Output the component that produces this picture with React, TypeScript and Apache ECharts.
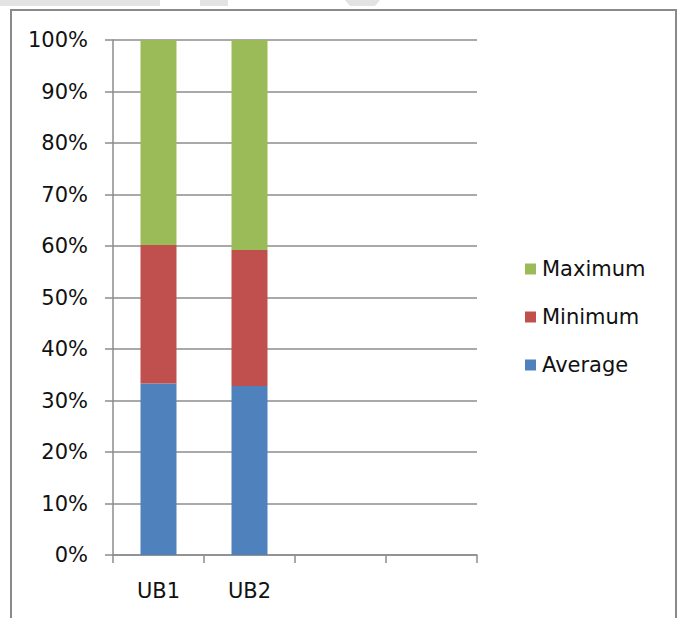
import React, { useEffect, useRef } from "react";
import * as echarts from "echarts";

const categories = ["UB1", "UB2", "", ""];
const averageValues = [33.3, 32.8];
const minimumValues = [26.9, 26.4];
const maximumValues = [39.8, 40.8];
const legendOrder = ["Maximum", "Minimum", "Average"];

const FONT = "DejaVu Sans";

export default function App() {
  const ref = useRef<HTMLDivElement>(null);
  useEffect(() => {
    document.body.style.margin = "0";
    const chart = echarts.init(ref.current!, null, { renderer: "svg" });
    const barStyle = { barWidth: 36, stack: "total" };
    chart.setOption({
      animation: false,
      backgroundColor: "#ffffff",
      graphic: [
        { type: "rect", shape: { x: 0, y: 0, width: 160, height: 6 }, style: { fill: "#e3e3e3" }, silent: true },
        { type: "rect", shape: { x: 200, y: 0, width: 28, height: 6 }, style: { fill: "#e3e3e3" }, silent: true },
        { type: "polygon", shape: { points: [[345, 0], [380, 0], [375, 6], [350, 6]] }, style: { fill: "#e3e3e3" }, silent: true },
        {
          type: "rect",
          shape: { x: 11, y: 10, width: 665, height: 640 },
          style: { fill: "none", stroke: "#8a8a8a", lineWidth: 2 },
          silent: true,
        },
      ],
      grid: { left: 113, right: 206, top: 40, bottom: 63, containLabel: false },
      legend: {
        data: legendOrder,
        orient: "vertical",
        left: 520,
        top: 253,
        itemWidth: 11,
        itemHeight: 11,
        itemGap: 26,
        icon: "rect",
        textStyle: { fontFamily: FONT, fontSize: 21, lineHeight: 22, color: "#111111", padding: [0, 0, 0, 1] },
      },
      xAxis: {
        type: "category",
        data: categories,
        boundaryGap: true,
        axisLine: { lineStyle: { color: "#8c8c8c", width: 1.5 } },
        axisTick: { show: true, length: 8, alignWithLabel: false, lineStyle: { color: "#8c8c8c", width: 1.5 } },
        axisLabel: { fontFamily: FONT, fontSize: 21, color: "#111111", margin: 25 },
        splitLine: { show: false },
      },
      yAxis: {
        type: "value",
        min: 0,
        max: 100,
        interval: 10,
        axisLine: { show: true, lineStyle: { color: "#8c8c8c", width: 1.5 } },
        axisTick: { show: true, length: 8, lineStyle: { color: "#8c8c8c", width: 1.5 } },
        axisLabel: { fontFamily: FONT, fontSize: 21, color: "#111111", margin: 25, formatter: "{value}%" },
        splitLine: { lineStyle: { color: "#8c8c8c", width: 1.5 } },
      },
      series: [
        { name: "Average", type: "bar", ...barStyle, data: averageValues, itemStyle: { color: "#4f81bd" } },
        { name: "Minimum", type: "bar", ...barStyle, data: minimumValues, itemStyle: { color: "#c0504d" } },
        { name: "Maximum", type: "bar", ...barStyle, data: maximumValues, itemStyle: { color: "#9bbb59" } },
      ],
    });
    return () => chart.dispose();
  }, []);
  return <div ref={ref} style={{ position: "absolute", left: 0, top: 0, width: 683, height: 618 }} />;
}
